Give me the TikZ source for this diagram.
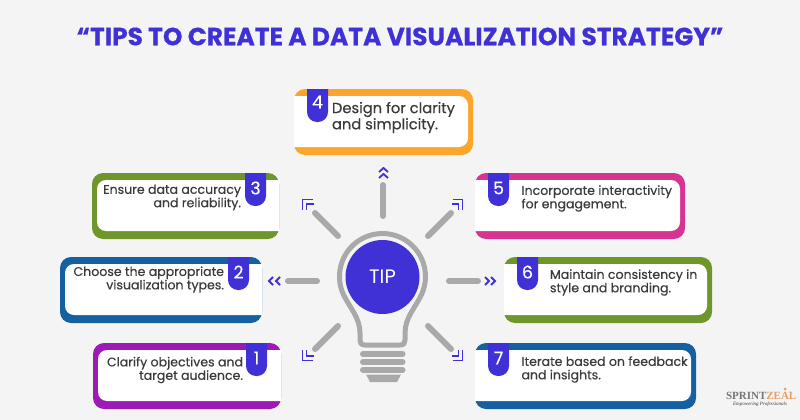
\documentclass[tikz,border=0pt]{standalone}
\usepackage{fontspec}
\setmainfont{Poppins}
\newfontfamily\cardfont[FakeBold=0.35]{Poppins}
\newfontfamily\logofont{Liberation Serif}
\definecolor{pagegrey}{HTML}{F4F4F4}
\definecolor{tagblue}{HTML}{3F31D6}
\definecolor{raygrey}{HTML}{A9A9A9}
\definecolor{bodygrey}{HTML}{3A3A3A}
\definecolor{cardorange}{HTML}{FBA62B}
\definecolor{cardolive}{HTML}{6F962B}
\definecolor{cardblue}{HTML}{1560A0}
\definecolor{cardpurple}{HTML}{9C1BB5}
\definecolor{cardpink}{HTML}{D63490}
\definecolor{logoorange}{HTML}{EE9A62}
\begin{document}
\begin{tikzpicture}
		[x=1pt,y=-1pt,every node/.style={inner sep=0pt,outer sep=0pt},
		cardtext/.style={text=bodygrey,font=\cardfont\fontsize{12.55}{13.4}\selectfont},
		tagnum/.style={text=white,font=\cardfont\fontsize{17.5}{17.5}\selectfont},
		ray/.style={line width=6pt,raygrey,line cap=round},
		chevron/.style={line width=1.8pt,tagblue},
		bulb/.style={line width=5pt,raygrey,line join=round}]
		\useasboundingbox[fill=pagegrey] (0,0) rectangle (800,420);
		\node (title) at (400,36.5) {\textcolor{tagblue}{\fontsize{24.9}{25}\selectfont\bfseries\addfontfeature{FakeBold=0.5}“TIPS TO CREATE A DATA VISUALIZATION STRATEGY”}};
		%cards open on the left
		\foreach \xa/\ya/\xb/\yb/\col in {294/89/473/155/cardorange,475/173/685/239/cardpink,504/257/712/323/cardolive,475/343/696/409/cardblue}
		{
		\fill[\col,rounded corners=11pt] (\xa,\ya) rectangle (\xb,\yb);
		\fill[white] ({\xa},{\ya+7}) [rounded corners=9pt] -- ({\xb-5},{\ya+7}) -- ({\xb-5},{\yb-8}) [sharp corners] -- ({\xa},{\yb-8}) -- cycle;
		}
		%cards open on the right
		\foreach \xa/\ya/\xb/\yb/\col in {92/173/279/239/cardolive,60/257/262/323/cardblue,93/343/281/409/cardpurple}
		{
		\fill[\col,rounded corners=11pt] (\xa,\ya) rectangle (\xb,\yb);
		\fill[white] ({\xb},{\ya+7}) [rounded corners=9pt] -- ({\xa+5},{\ya+7}) -- ({\xa+5},{\yb-8}) [sharp corners] -- ({\xb},{\yb-8}) -- cycle;
		}
		%number tags
		\foreach \xa/\ya in {307/89,488/173,517/257,488/343,245/173,228/257,246/343}
		\fill[tagblue] ({\xa},{\ya}) -- ({\xa+21},{\ya}) [rounded corners=10pt] -- ({\xa+21},{\ya+33}) -- ({\xa},{\ya+33}) [sharp corners] -- cycle;
		\node[tagnum] (n4) at (317.5,102) {4};
		\node[tagnum] (n5) at (498.5,188) {5};
		\node[tagnum] (n6) at (527.5,272) {6};
		\node[tagnum] (n7) at (498.5,358) {7};
		\node[tagnum] (n3) at (255.5,188) {3};
		\node[tagnum] (n2) at (238.5,272) {2};
		\node[tagnum] (n1) at (256.5,358) {1};
		\node[cardtext,font=\cardfont\fontsize{14.7}{15}\selectfont,anchor=west,align=left] (txt4) at (332,117.5) {Design for clarity\\and simplicity.};
		\node[cardtext,anchor=west,align=left] (txt5) at (521.5,198.5) {Incorporate interactivity\\for engagement.};
		\node[cardtext,anchor=west,align=left] (txt6) at (550,282.5) {Maintain consistency in\\style and branding.};
		\node[cardtext,anchor=west,align=left] (txt7) at (521.5,369.5) {Iterate based on feedback\\and insights.};
		\node[cardtext,anchor=east,align=right] (txt3) at (241,197.5) {Ensure data accuracy\\and reliability.};
		\node[cardtext,anchor=east,align=right] (txt2) at (224,279.5) {Choose the appropriate\\visualization types.};
		\node[cardtext,anchor=east,align=right] (txt1) at (243,370) {Clarify objectives and\\target audience.};
		%rays
		\coordinate (r1a) at (383,185);	\coordinate (r1b) at (383,216);
		\coordinate (r2a) at (449,281);	\coordinate (r2b) at (478,281);
		\coordinate (r3a) at (288,281);	\coordinate (r3b) at (317,281);
		\coordinate (r4a) at (428,236);	\coordinate (r4b) at (451,213);
		\coordinate (r5a) at (338,236);	\coordinate (r5b) at (315,213);
		\coordinate (r6a) at (338,326);	\coordinate (r6b) at (315,349);
		\coordinate (r7a) at (428,326);	\coordinate (r7b) at (451,349);
		\foreach \from/\to in {r1a/r1b,r2a/r2b,r3a/r3b,r4a/r4b,r5a/r5b,r6a/r6b,r7a/r7b}
		\draw[ray] (\from) -- (\to);
		%chevrons
		\draw[chevron] (379,172) -- (383.5,168) -- (388,172);
		\draw[chevron] (379,178) -- (383.5,174) -- (388,178);
		\draw[chevron] (485,277) -- (489,281) -- (485,285);
		\draw[chevron] (491,277) -- (495,281) -- (491,285);
		\draw[chevron] (273,277) -- (269,281) -- (273,285);
		\draw[chevron] (280,277) -- (276,281) -- (280,285);
		\foreach \sx/\sy in {-1/-1,1/-1,-1/1,1/1}
		{
		\draw[chevron] ({382.5+\sx*70},{280+\sy*80.5}) -- ({382.5+\sx*80},{280+\sy*80.5}) -- ({382.5+\sx*80},{280+\sy*70});
		\draw[chevron] ({382.5+\sx*69},{280+\sy*76}) -- ({382.5+\sx*76},{280+\sy*76}) -- ({382.5+\sx*76},{280+\sy*70});
		}
		%bulb
		\draw[bulb] (382.5,345) -- (365,345) .. controls (361,345) and (360,343) .. (360,340) -- (360,333) .. controls (360,318) and (350,308) .. (343.5,294.7) arc[start angle=155,end angle=385,radius=43] .. controls (415,308) and (405,318) .. (405,333) -- (405,340) .. controls (405,343) and (404,345) .. (400,345) -- cycle;
		\foreach \ya in {354,362,370}
		\draw[line width=6pt,raygrey,line cap=round] (363,\ya) -- (402.5,\ya);
		\fill[raygrey] (366,374.5) -- (401,374.5) -- (397,382) -- (370,382) -- cycle;
		\node[circle,fill=tagblue,minimum size=74pt,text=white,font=\fontsize{19.5}{20}\selectfont] (tip) at (382.5,277) {TIP};
		%logo
		\node[anchor=west] (logo) at (726,396) {\logofont\bfseries\fontsize{11}{11}\selectfont\textcolor{raygrey!70!black}{SPRINT}\textcolor{logoorange}{ZEAL}};
		\node[anchor=east] (slogan) at (787,404) {\logofont\itshape\fontsize{5}{5}\selectfont\textcolor{bodygrey}{Empowering Professionals}};
		\fill[logoorange] (785,389) circle (1.5);
	\end{tikzpicture}
\end{document}
